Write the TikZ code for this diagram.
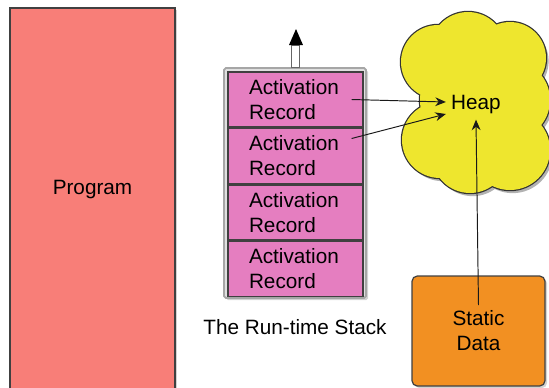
\documentclass[tikz,border=0pt]{standalone}
\usepackage{fontspec}
\setmainfont{Liberation Sans}
\usetikzlibrary{positioning,shadows,arrows.meta}

\definecolor{progred}{HTML}{F87E78}
\definecolor{recpink}{HTML}{E57EC0}
\definecolor{heapyel}{HTML}{EEE62E}
\definecolor{statorg}{HTML}{F29022}

% puffs of the heap cloud: x/y in px, radius in cm
\newcommand\heappuffs{438/62/0.74, 468/50/0.76, 510/58/0.72, 440/140/0.76, 470/155/0.76,
    510/150/0.8, 510/100/0.8, 470/100/1.0}

\tikzset{
    shade/.style={drop shadow={shadow xshift=1.2pt, shadow yshift=-1.2pt, opacity=0.35}},
    block/.style={draw=black!75, line width=0.7pt, font=\fontsize{11.8}{14.2}\selectfont},
    record/.style={block, fill=recpink, minimum width=2.7cm, minimum height=1.1cm,
        text width=1.86cm, inner xsep=0.42cm, align=left},
    conn/.style={-{Stealth[length=6pt,width=5pt]}, line width=0.55pt, black!90},
}

\begin{document}
\begin{tikzpicture}[x=0.02cm, y=-0.02cm]
    \useasboundingbox (0,0) rectangle (549,387);

    % program area
    \node[block, shade, fill=progred, minimum width=3.3cm, minimum height=7.64cm] (program) at (92.5,199) {};
    \node[font=\fontsize{11.8}{14.2}\selectfont] (proglbl) at (92.5,190) {Program};

    % run-time stack
    \node[draw=black!35, fill=black!12, line width=1pt, rounded corners=1pt, shade,
          minimum width=2.84cm, minimum height=4.6cm] (stack) at (295,183) {};
    \foreach \i in {1,...,4}
        \node[record] (rec\i) at (295.5,{99.5+56.5*(\i-1)}) {Activation\\Record};
    \node[font=\fontsize{11.8}{14.2}\selectfont, below=0.28cm of stack] (stacklbl) {The Run-time Stack};

    % growth arrow
    \coordinate (neck) at (296,45);
    \coordinate (top) at (296,29);
    \draw[black!60, fill=white, line width=0.6pt] ([xshift=-0.065cm]stack.north) rectangle ([xshift=0.065cm]neck);
    \fill[black] ([xshift=-0.14cm]neck) -- (top) -- ([xshift=0.14cm]neck) -- cycle;

    % heap cloud: shadow, outline, then fill over the inner edges
    \begin{scope}[transparency group, opacity=0.3]
        \foreach \cx/\cy/\r in \heappuffs
            \fill[black] ([shift={(1.5pt,-1.8pt)}]\cx,\cy) circle (\r cm);
    \end{scope}
    \foreach \cx/\cy/\r in \heappuffs
        \draw[black!80, line width=1.4pt] (\cx,\cy) circle (\r cm);
    \foreach \cx/\cy/\r in \heappuffs
        \fill[heapyel] (\cx,\cy) circle (\r cm);
    \node[font=\fontsize{11.8}{14.2}\selectfont, inner sep=0.1cm] (heap) at (476,105) {Heap};

    % static data
    \node[block, shade, fill=statorg, rounded corners=3pt, minimum width=2.66cm, minimum height=2.2cm,
          align=center] (static) at (478.5,331) {Static\\Data};

    \draw[conn] ([xshift=-0.24cm]rec1.east) -- ([yshift=0.06cm]heap.west);
    \draw[conn] ([xshift=-0.24cm,yshift=0.35cm]rec2.east) -- ([yshift=-0.18cm]heap.west);
    \draw[conn] ([yshift=0.52cm]static.center) -- (heap.south);
\end{tikzpicture}
\end{document}
